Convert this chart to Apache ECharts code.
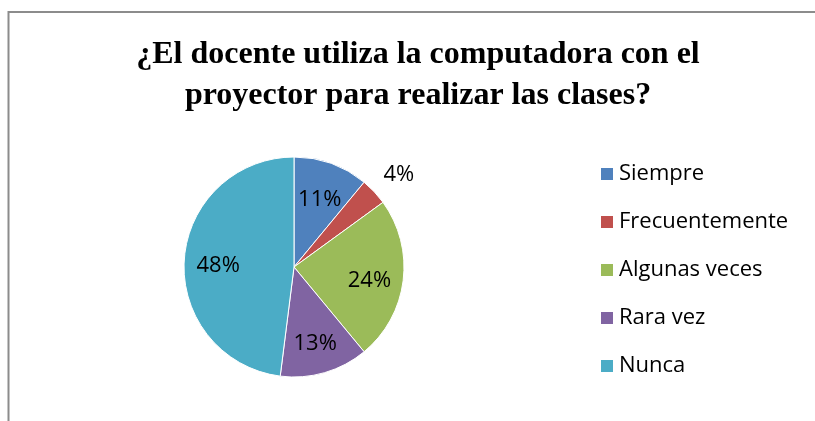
<!DOCTYPE html>
<html>
<head>
<meta charset="utf-8">
<script src="https://cdn.jsdelivr.net/npm/echarts@6/dist/echarts.min.js"></script>
<style>
html, body { margin: 0; padding: 0; background: #fff; }
#main { width: 815px; height: 421px; }
</style>
</head>
<body>
<div id="main"></div>
<script>
var categories = ['Siempre', 'Frecuentemente', 'Algunas veces', 'Rara vez', 'Nunca'];
var values = [11, 4, 24, 13, 48];
var colors = ['#4F81BD', '#C0504D', '#9BBB59', '#8064A2', '#4BACC6'];
var titleText = '¿El docente utiliza la computadora con el\nproyector para realizar las clases?';

var myChart = echarts.init(document.getElementById('main'));

// main slices, only the small slice keeps its label outside
var pieData = [];
// transparent copy, used to put the inner labels a bit further out
var labelData = [];
for (var i = 0; i < categories.length; i++) {
	var small = values[i] < 5;
	pieData.push({
		name: categories[i],
		value: values[i],
		label: { show: small, offset: [-6, -7] }
	});
	labelData.push({
		name: categories[i],
		value: values[i],
		label: { show: !small }
	});
}

var option = {
	color: colors,
	animation: false,
	title: {
		text: titleText,
		left: 413,
		top: 29,
		textAlign: 'center',
		textStyle: {
			fontFamily: 'Liberation Serif',
			fontWeight: 'bold',
			fontSize: 32,
			lineHeight: 41,
			color: '#000'
		}
	},
	// chart frame: only the left and top edges fall inside the picture
	graphic: [{
		type: 'polyline',
		shape: { points: [[8.5, 421], [8.5, 12], [815, 12]] },
		style: { fill: 'none', stroke: '#8c8c8c', lineWidth: 2 },
		silent: true
	}],
	legend: {
		orient: 'vertical',
		left: 594,
		top: 158,
		itemWidth: 14,
		itemHeight: 14,
		itemGap: 26,
		icon: 'rect',
		textStyle: {
			fontFamily: 'Open Sans',
			fontSize: 22,
			color: '#000'
		},
		data: categories
	},
	series: [{
		name: 'respuestas',
		type: 'pie',
		center: [294, 267],
		radius: [0, 110],
		startAngle: 90,
		clockwise: true,
		data: pieData,
		itemStyle: { borderColor: '#fff', borderWidth: 1 },
		label: {
			position: 'outside',
			formatter: '{d}%',
			fontFamily: 'Open Sans',
			fontSize: 22,
			color: '#000'
		},
		labelLine: { show: false, length: 14, length2: 0 }
	}, {
		name: 'etiquetas',
		type: 'pie',
		silent: true,
		center: [294, 267],
		radius: [36, 110],
		startAngle: 90,
		clockwise: true,
		data: labelData,
		itemStyle: { color: 'rgba(0,0,0,0)' },
		label: {
			position: 'inside',
			formatter: '{d}%',
			offset: [0, 4],
			fontFamily: 'Open Sans',
			fontSize: 22,
			color: '#000'
		},
		labelLine: { show: false }
	}]
};
myChart.setOption(option);
</script>
</body>
</html>
